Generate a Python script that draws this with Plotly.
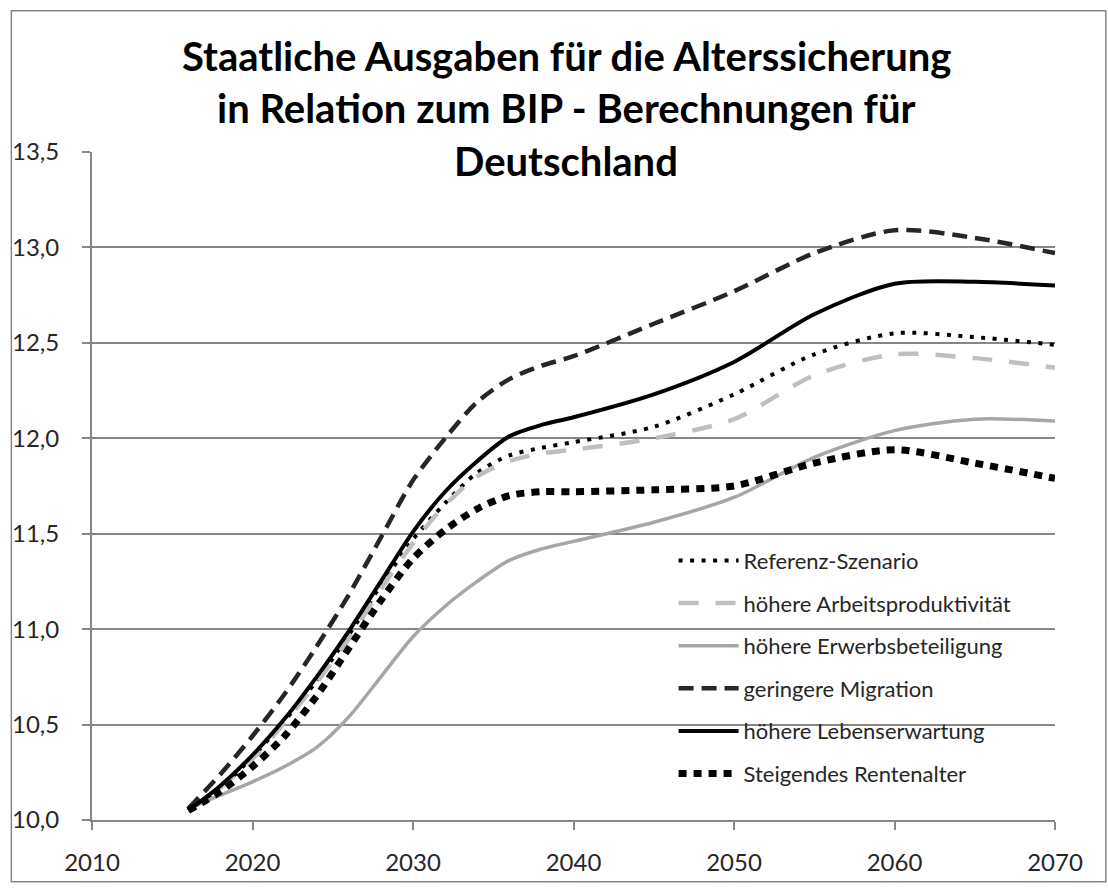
import plotly.graph_objects as go

years = [2016, 2018, 2020, 2022, 2024, 2026, 2028, 2030, 2032, 2034, 2036, 2038,
         2040, 2045, 2050, 2055, 2060, 2065, 2070]

referenz = [10.05, 10.17, 10.33, 10.52, 10.73, 10.97, 11.23, 11.47, 11.66, 11.82, 11.91, 11.95,
            11.98, 12.06, 12.23, 12.44, 12.55, 12.53, 12.49]
arbeitsprod = [10.05, 10.17, 10.32, 10.51, 10.72, 10.95, 11.21, 11.45, 11.65, 11.80, 11.88, 11.92,
               11.94, 12.00, 12.10, 12.33, 12.44, 12.42, 12.37]
erwerb = [10.06, 10.13, 10.20, 10.28, 10.38, 10.54, 10.75, 10.96, 11.12, 11.25, 11.36, 11.42,
          11.46, 11.56, 11.69, 11.90, 12.04, 12.10, 12.09]
migration = [10.06, 10.24, 10.44, 10.66, 10.91, 11.18, 11.48, 11.78, 12.00, 12.19, 12.31, 12.38,
             12.43, 12.60, 12.77, 12.97, 13.09, 13.05, 12.97]
lebenserw = [10.05, 10.18, 10.34, 10.53, 10.75, 10.99, 11.25, 11.51, 11.72, 11.88, 12.01, 12.07,
             12.11, 12.23, 12.40, 12.65, 12.81, 12.82, 12.80]
rentenalter = [10.05, 10.15, 10.28, 10.44, 10.65, 10.90, 11.15, 11.37, 11.52, 11.63, 11.70, 11.72,
               11.72, 11.73, 11.75, 11.87, 11.94, 11.87, 11.79]

series_names = ["Referenz-Szenario", "höhere Arbeitsproduktivität", "höhere Erwerbsbeteiligung",
                "geringere Migration", "höhere Lebenserwartung", "Steigendes Rentenalter"]
x_ticks = [2010, 2020, 2030, 2040, 2050, 2060, 2070]
y_ticks = [10.0, 10.5, 11.0, 11.5, 12.0, 12.5, 13.0, 13.5]
title_lines = ["Staatliche Ausgaben für die Alterssicherung",
               "in Relation zum BIP - Berechnungen für",
               "Deutschland"]

styles = [
    dict(color="#000000", width=4, dash="4px,7.5px"),
    dict(color="#BFBFBF", width=4.5, dash="20px,17px"),
    dict(color="#A6A6A6", width=3.5, dash="solid"),
    dict(color="#262626", width=4.5, dash="15px,8px"),
    dict(color="#000000", width=4, dash="solid"),
    dict(color="#000000", width=7, dash="8px,7px"),
]
data = [referenz, arbeitsprod, erwerb, migration, lebenserw, rentenalter]

fig = go.Figure()
for i, (name, vals, st) in enumerate(zip(series_names, data, styles)):
    fig.add_trace(go.Scatter(
        x=years, y=vals, name=name, mode="lines", legendgroup=f"g{i}",
        line=dict(color=st["color"], width=st["width"], dash=st["dash"], shape="spline", smoothing=0.8),
    ))

W, H = 1108, 888
L, R, T, B = 88, 53, 152, 64
pw, ph = W - L - R, H - T - B

def px_x(p):
    return (p - L) / pw

def px_y(p):
    return (H - B - p) / ph

annotations = []
for txt, yc in zip(title_lines, [55, 108, 161]):
    annotations.append(dict(text=f"<b>{txt}</b>", x=0.5, xref="paper", xanchor="center",
                            y=px_y(yc), yref="paper", yanchor="middle", showarrow=False,
                            xshift=(564 - (L + pw / 2)),
                            font=dict(family="Lato", size=40, color="#000000")))

fig.update_layout(
    width=W, height=H,
    margin=dict(l=L, r=R, t=T, b=B),
    paper_bgcolor="white", plot_bgcolor="white",
    separators=",.",
    font=dict(family="Lato", color="#262626"),
    annotations=annotations,
    showlegend=True,
    legend=dict(x=px_x(672), y=px_y(542), xanchor="left", yanchor="top",
                bgcolor="rgba(0,0,0,0)", borderwidth=0,
                font=dict(family="Lato", size=22, color="#262626"),
                itemwidth=60, tracegroupgap=11),
    shapes=[dict(type="rect", xref="paper", yref="paper",
                 x0=px_x(7), x1=px_x(1106), y0=px_y(886), y1=px_y(10),
                 line=dict(color="#868686", width=1.5), fillcolor="rgba(0,0,0,0)", layer="below")],
)
fig.update_xaxes(range=[2010, 2070], tickvals=x_ticks, tickformat="d",
                 showgrid=False, zeroline=False,
                 showline=True, linecolor="#868686", linewidth=2,
                 ticks="outside", ticklen=8, tickcolor="#868686", tickwidth=2,
                 ticklabelstandoff=12,
                 tickfont=dict(family="Lato", size=24, color="#262626"))
fig.update_yaxes(range=[10, 13.5], tickvals=y_ticks, tickformat=".1f",
                 showgrid=True, gridcolor="#868686", gridwidth=2, zeroline=False,
                 showline=True, linecolor="#868686", linewidth=2,
                 ticks="outside", ticklen=8, tickcolor="#868686", tickwidth=2,
                 ticklabelstandoff=18,
                 tickfont=dict(family="Lato", size=24, color="#262626"))

fig.write_html("out.html", config={"displayModeBar": False},
               post_script="document.body.style.margin='0';")
